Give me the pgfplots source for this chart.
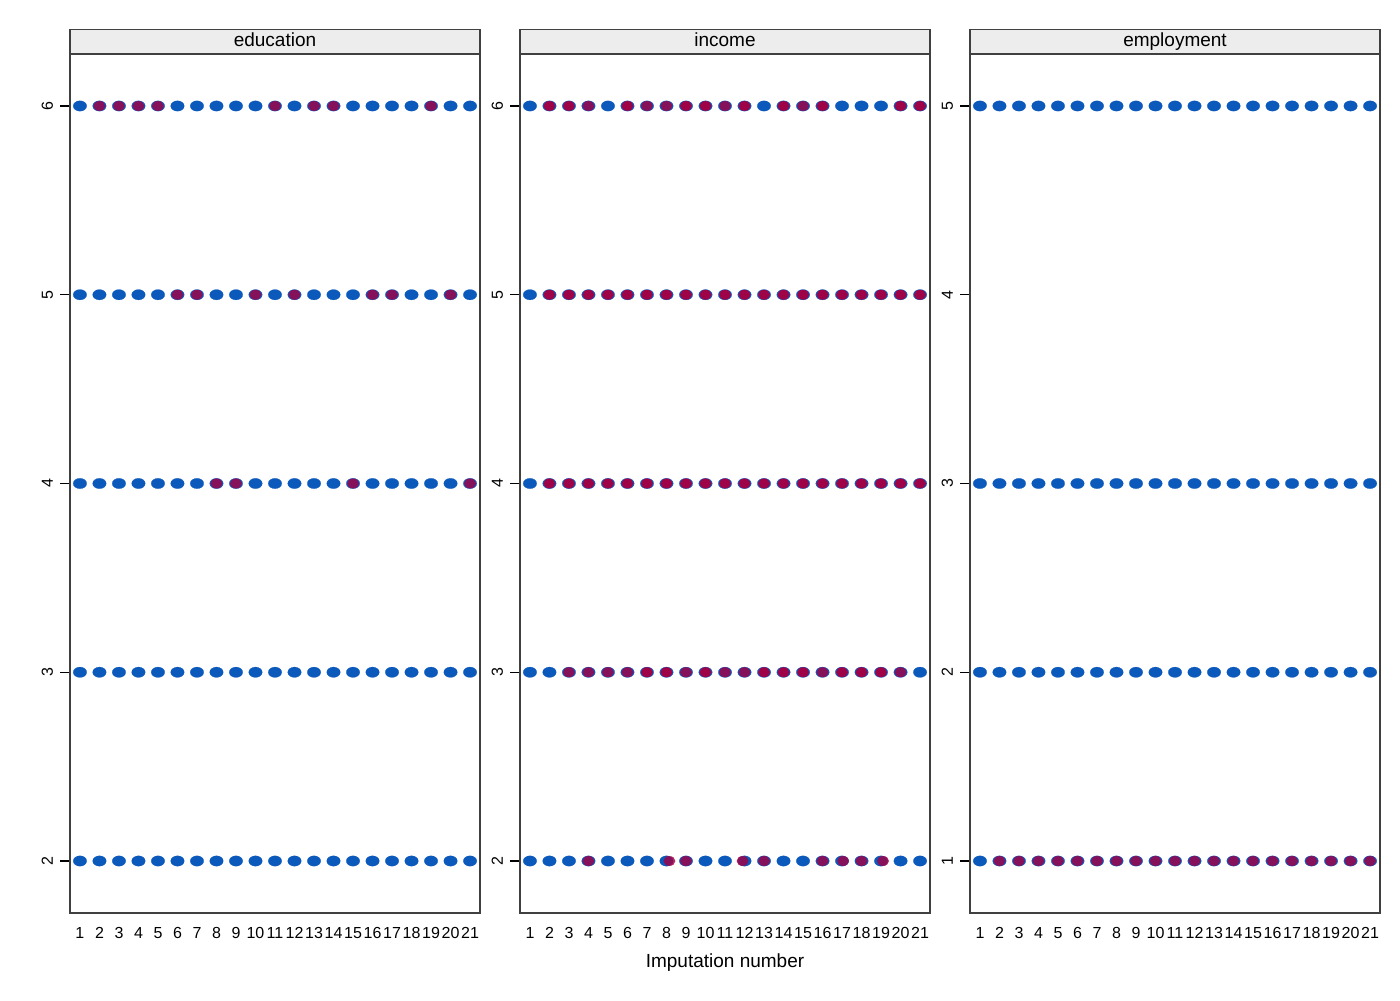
\documentclass[border=0pt]{standalone}
\usepackage{fontspec}
\setmainfont{Liberation Sans}
\usepackage{pgfplots}
\pgfplotsset{compat=1.18}
\definecolor{mblue}{RGB}{11,89,187}
\definecolor{mred}{RGB}{165,0,68}
\pgfplotsset{
  panel/.style={
    scale only axis, width=205pt, height=429.5pt, anchor=south west,
    xmin=0.49, xmax=21.51, xtick={1,...,21},
    xtick pos=bottom, ytick pos=left,
    tick align=outside, major tick length=5pt,
    xtick style={draw=none},
    axis line style={black!75, line width=0.6pt},
    ytick style={black, line width=0.6pt},
    tick label style={font=\fontsize{8}{9}\selectfont},
    /pgf/number format/assume math mode=true,
    yticklabel style={rotate=90, anchor=south},
    xticklabel style={yshift=1.5pt},
    every axis title shift=0pt,
    title style={at={(0.5,1)}, anchor=south, yshift=0pt, draw=black!75, line width=0.6pt, fill=black!7,
      minimum width=205pt, minimum height=12pt, inner sep=0pt, text height=6.8pt, text depth=1.8pt,
      font=\fontsize{9.5}{10}\selectfont},
    clip=false,
  },
  bpts/.style={only marks, color=mblue, mark=*, mark size=2.6pt, mark options={xscale=1.3, fill=mblue, draw=mblue, line width=0.1pt}},
  rpts/.style={only marks, color=mred, mark=*, mark size=2.4pt, mark options={xscale=1.2, fill=mred, draw=mred, line width=0.1pt, opacity=0.8}},
  dpts/.style={only marks, color=mred, mark=*, mark size=2.4pt, mark options={xscale=1.2, fill=mred, draw=mred, line width=0.1pt, opacity=0.96}},
}
\begin{document}
\begin{tikzpicture}
\useasboundingbox (0,0) rectangle (700pt,500pt);
% ---------------- education
\begin{axis}[panel, at={(35pt,43.5pt)}, ymin=1.7245, ymax=6.2755, ytick={2,...,6}, title={education}]
\addplot[bpts] coordinates {
(1,6)(2,6)(3,6)(4,6)(5,6)(6,6)(7,6)(8,6)(9,6)(10,6)(11,6)(12,6)(13,6)(14,6)(15,6)(16,6)(17,6)(18,6)(19,6)(20,6)(21,6)
(1,5)(2,5)(3,5)(4,5)(5,5)(6,5)(7,5)(8,5)(9,5)(10,5)(11,5)(12,5)(13,5)(14,5)(15,5)(16,5)(17,5)(18,5)(19,5)(20,5)(21,5)
(1,4)(2,4)(3,4)(4,4)(5,4)(6,4)(7,4)(8,4)(9,4)(10,4)(11,4)(12,4)(13,4)(14,4)(15,4)(16,4)(17,4)(18,4)(19,4)(20,4)(21,4)
(1,3)(2,3)(3,3)(4,3)(5,3)(6,3)(7,3)(8,3)(9,3)(10,3)(11,3)(12,3)(13,3)(14,3)(15,3)(16,3)(17,3)(18,3)(19,3)(20,3)(21,3)
(1,2)(2,2)(3,2)(4,2)(5,2)(6,2)(7,2)(8,2)(9,2)(10,2)(11,2)(12,2)(13,2)(14,2)(15,2)(16,2)(17,2)(18,2)(19,2)(20,2)(21,2)
};
\addplot[rpts] coordinates {
(2,6)(3,6)(4,6)(5,6)(11,6)(13,6)(14,6)(19,6)
(6,5)(7,5)(10,5)(12,5)(16,5)(17,5)(20,5)
(8,4)(9,4)(15,4)(21,4)
};
\end{axis}
% ---------------- income
\begin{axis}[panel, at={(260pt,43.5pt)}, ymin=1.7245, ymax=6.2755, ytick={2,...,6}, title={income},
  xlabel={Imputation number}, xlabel style={at={(axis description cs:0.5,-0.0582)}, anchor=center, font=\fontsize{9.5}{10}\selectfont}]
\addplot[bpts] coordinates {
(1,6)(2,6)(3,6)(4,6)(5,6)(6,6)(7,6)(8,6)(9,6)(10,6)(11,6)(12,6)(13,6)(14,6)(15,6)(16,6)(17,6)(18,6)(19,6)(20,6)(21,6)
(1,5)(2,5)(3,5)(4,5)(5,5)(6,5)(7,5)(8,5)(9,5)(10,5)(11,5)(12,5)(13,5)(14,5)(15,5)(16,5)(17,5)(18,5)(19,5)(20,5)(21,5)
(1,4)(2,4)(3,4)(4,4)(5,4)(6,4)(7,4)(8,4)(9,4)(10,4)(11,4)(12,4)(13,4)(14,4)(15,4)(16,4)(17,4)(18,4)(19,4)(20,4)(21,4)
(1,3)(2,3)(3,3)(4,3)(5,3)(6,3)(7,3)(8,3)(9,3)(10,3)(11,3)(12,3)(13,3)(14,3)(15,3)(16,3)(17,3)(18,3)(19,3)(20,3)(21,3)
(1,2)(2,2)(3,2)(4,2)(5,2)(6,2)(7,2)(8,2)(9,2)(10,2)(11,2)(12,2)(13,2)(14,2)(15,2)(16,2)(17,2)(18,2)(19,2)(20,2)(21,2)
};
\addplot[rpts] coordinates {
(4,6)(7,6)(8,6)(11,6)(15,6)
(3,3)(4,3)(5,3)(6,3)(9,3)(11,3)(12,3)(16,3)(20,3)
(4,2)(8.15,2)(9,2)(11.9,2)(13,2)(16,2)(17.05,2)(18,2)(19.1,2)
};
\addplot[dpts] coordinates {
(2,6)(3,6)(6,6)(9,6)(10,6)(12,6)(14,6)(16,6)(20,6)(21,6)
(2,5)(3,5)(4,5)(5,5)(6,5)(7,5)(8,5)(9,5)(10,5)(11,5)(12,5)(13,5)(14,5)(15,5)(16,5)(17,5)(18,5)(19,5)(20,5)(21,5)
(2,4)(3,4)(4,4)(5,4)(6,4)(7,4)(8,4)(9,4)(10,4)(11,4)(12,4)(13,4)(14,4)(15,4)(16,4)(17,4)(18,4)(19,4)(20,4)(21,4)
(7,3)(8,3)(10,3)(13,3)(14,3)(15,3)(17,3)(18,3)(19,3)
};
\end{axis}
% ---------------- employment
\begin{axis}[panel, at={(485pt,43.5pt)}, ymin=0.7245, ymax=5.2755, ytick={1,...,5}, title={employment}]
\addplot[bpts] coordinates {
(1,5)(2,5)(3,5)(4,5)(5,5)(6,5)(7,5)(8,5)(9,5)(10,5)(11,5)(12,5)(13,5)(14,5)(15,5)(16,5)(17,5)(18,5)(19,5)(20,5)(21,5)
(1,3)(2,3)(3,3)(4,3)(5,3)(6,3)(7,3)(8,3)(9,3)(10,3)(11,3)(12,3)(13,3)(14,3)(15,3)(16,3)(17,3)(18,3)(19,3)(20,3)(21,3)
(1,2)(2,2)(3,2)(4,2)(5,2)(6,2)(7,2)(8,2)(9,2)(10,2)(11,2)(12,2)(13,2)(14,2)(15,2)(16,2)(17,2)(18,2)(19,2)(20,2)(21,2)
(1,1)(2,1)(3,1)(4,1)(5,1)(6,1)(7,1)(8,1)(9,1)(10,1)(11,1)(12,1)(13,1)(14,1)(15,1)(16,1)(17,1)(18,1)(19,1)(20,1)(21,1)
};
\addplot[rpts] coordinates {
(2,1)(3,1)(4,1)(5,1)(6,1)(7,1)(8,1)(9,1)(10,1)(11,1)(12,1)(13,1)(14,1)(15,1)(16,1)(17,1)(18,1)(19,1)(20,1)(21,1)
};
\end{axis}
\end{tikzpicture}
\end{document}
